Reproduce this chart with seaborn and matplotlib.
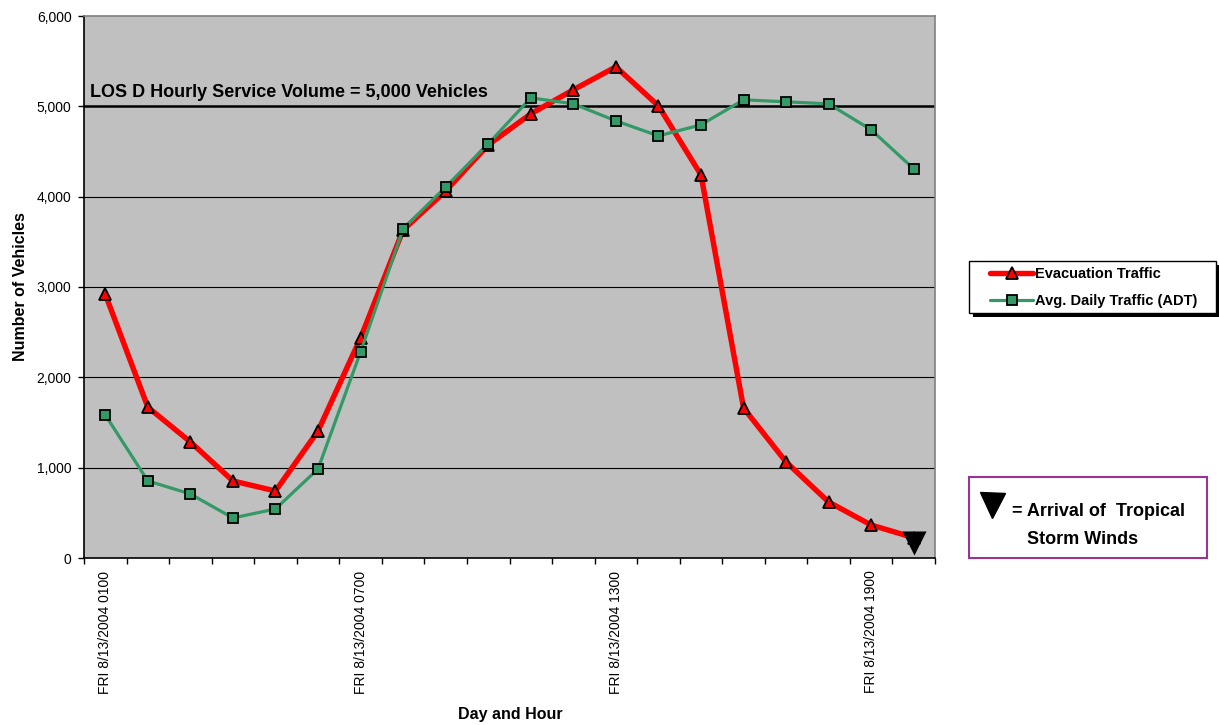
import matplotlib
matplotlib.use("Agg")
import matplotlib.pyplot as plt
from matplotlib.lines import Line2D
from matplotlib.patches import Rectangle
import pandas as pd
import seaborn as sns

# Hourly counts, Friday 8/13/2004
hours = ["0100", "0200", "0300", "0400", "0500", "0600", "0700", "0800", "0900", "1000",
         "1100", "1200", "1300", "1400", "1500", "1600", "1700", "1800", "1900", "2000"]
evacuation = [2920, 1670, 1285, 853, 742, 1406, 2436, 3632, 4064, 4573,
              4917, 5183, 5437, 5006, 4241, 1661, 1063, 620, 365, 225]
adt = [1584, 853, 709, 443, 543, 986, 2281, 3643, 4108, 4585,
       5094, 5028, 4839, 4673, 4795, 5072, 5050, 5028, 4740, 4308]
los_d_volume = 5000
storm_hour_index = 19
storm_marker_value = 165
y_ticks = [0, 1000, 2000, 3000, 4000, 5000, 6000]
labeled_hours = [0, 6, 12, 18]

df = pd.DataFrame({
    "hour": list(range(len(hours))),
    "Evacuation Traffic": evacuation,
    "Avg. Daily Traffic (ADT)": adt,
})

sns.set_style("white")
plt.rcParams["font.family"] = ["Liberation Sans", "DejaVu Sans"]
plt.rcParams["text.color"] = "black"
plt.rcParams["axes.labelcolor"] = "black"
plt.rcParams["xtick.color"] = "black"
plt.rcParams["ytick.color"] = "black"

W, H = 1219, 725
fig = plt.figure(figsize=(W / 100, H / 100), dpi=100)
ax = fig.add_axes([84 / W, 1 - 558 / H, (935 - 84) / W, (558 - 16) / H])
ax.set_facecolor("#C0C0C0")

# horizontal gridlines
for v in y_ticks[1:-1]:
    if v != los_d_volume:
        ax.axhline(v, color="black", linewidth=0.8, zorder=1)
ax.axhline(los_d_volume, color="black", linewidth=1.8, zorder=1)
ax.text(-0.35, los_d_volume + 60, "LOS D Hourly Service Volume = 5,000 Vehicles",
        fontsize=13, fontweight="bold", ha="left", va="bottom", zorder=2)

green = "#339966"
sns.lineplot(data=df, x="hour", y="Evacuation Traffic", ax=ax, color="#FF0000",
             linewidth=3.9, marker="^", markersize=8.5, markerfacecolor="#FF0000",
             markeredgecolor="black", markeredgewidth=1.3, label="Evacuation Traffic",
             zorder=3, legend=False)
sns.lineplot(data=df, x="hour", y="Avg. Daily Traffic (ADT)", ax=ax, color=green,
             linewidth=2.3, marker="s", markersize=7, markerfacecolor=green,
             markeredgecolor="black", markeredgewidth=1.3, label="Avg. Daily Traffic (ADT)",
             zorder=4, legend=False)
sns.scatterplot(x=[storm_hour_index], y=[storm_marker_value], ax=ax, marker="v",
                s=300, color="black", edgecolor="black", linewidth=0, zorder=5,
                clip_on=False, legend=False)

ax.set_xlim(-0.5, len(hours) - 0.5)
ax.set_ylim(0, 6000)
ax.set_yticks(y_ticks)
ax.set_yticklabels([f"{v:,}" for v in y_ticks])
ax.tick_params(axis="y", direction="out", length=4, width=1, color="black",
               labelsize=10, pad=5, left=True, labelcolor="black")

# category boundary ticks, labels centred on selected hours
ax.set_xticks([i - 0.5 for i in range(len(hours) + 1)])
ax.set_xticklabels([])
ax.set_xticks(labeled_hours, minor=True)
ax.set_xticklabels([f"FRI 8/13/2004 {hours[i]}" for i in labeled_hours],
                   minor=True, rotation=90, va="top", ha="center")
ax.tick_params(axis="x", which="major", direction="out", length=4, width=1,
               color="black", bottom=True)
ax.tick_params(axis="x", which="minor", length=0, labelsize=10, pad=9,
               labelcolor="black")

ax.set_xlabel("")
ax.set_ylabel("")
for side in ["left", "bottom"]:
    ax.spines[side].set_color("black")
    ax.spines[side].set_linewidth(1.2)
for side in ["top", "right"]:
    ax.spines[side].set_color("#808080")
    ax.spines[side].set_linewidth(1.2)

fig.text(510 / W, 1 - 715 / H, "Day and Hour", fontsize=11.5, fontweight="bold",
         ha="center", va="center")
fig.text(21 / W, 1 - 287 / H, "Number of Vehicles", fontsize=11.5, fontweight="bold",
         ha="center", va="center", rotation=90)

# legend box with drop shadow
box_x0, box_y0, box_x1, box_y1 = 969, 261, 1216, 313
fig.add_artist(Rectangle(((box_x0 + 4) / W, 1 - (box_y1 + 4) / H),
                         (box_x1 - box_x0) / W, (box_y1 - box_y0) / H,
                         transform=fig.transFigure, facecolor="black",
                         edgecolor="black", linewidth=0, zorder=1))
fig.add_artist(Rectangle((box_x0 / W, 1 - box_y1 / H),
                         (box_x1 - box_x0) / W, (box_y1 - box_y0) / H,
                         transform=fig.transFigure, facecolor="white",
                         edgecolor="black", linewidth=1.0, zorder=2))

handles, labels = ax.get_legend_handles_labels()
leg = fig.legend(handles=handles, labels=labels,
                 loc="upper left", bbox_to_anchor=(986 / W, 1 - 263 / H),
                 borderaxespad=0, frameon=False,
                 prop={"weight": "bold", "size": 10.5}, handlelength=2.9,
                 handletextpad=0.15, labelspacing=0.85, borderpad=0.3)
leg.set_zorder(3)

# storm wind arrival key
fig.add_artist(Rectangle((969 / W, 1 - 558 / H), (1207 - 969) / W, (558 - 477) / H,
                         transform=fig.transFigure, fill=False,
                         edgecolor="#993399", linewidth=1.5))
fig.add_artist(Line2D([992 / W], [1 - 505 / H], transform=fig.transFigure, marker="v",
                      markersize=18, color="black", linestyle="none"))
fig.text(1012 / W, 1 - 512 / H, "= Arrival of  Tropical", fontsize=13,
         fontweight="bold", ha="left", va="center")
fig.text(1027 / W, 1 - 540 / H, "Storm Winds", fontsize=13,
         fontweight="bold", ha="left", va="center")

fig.savefig("out.png", dpi=100, facecolor="white")
